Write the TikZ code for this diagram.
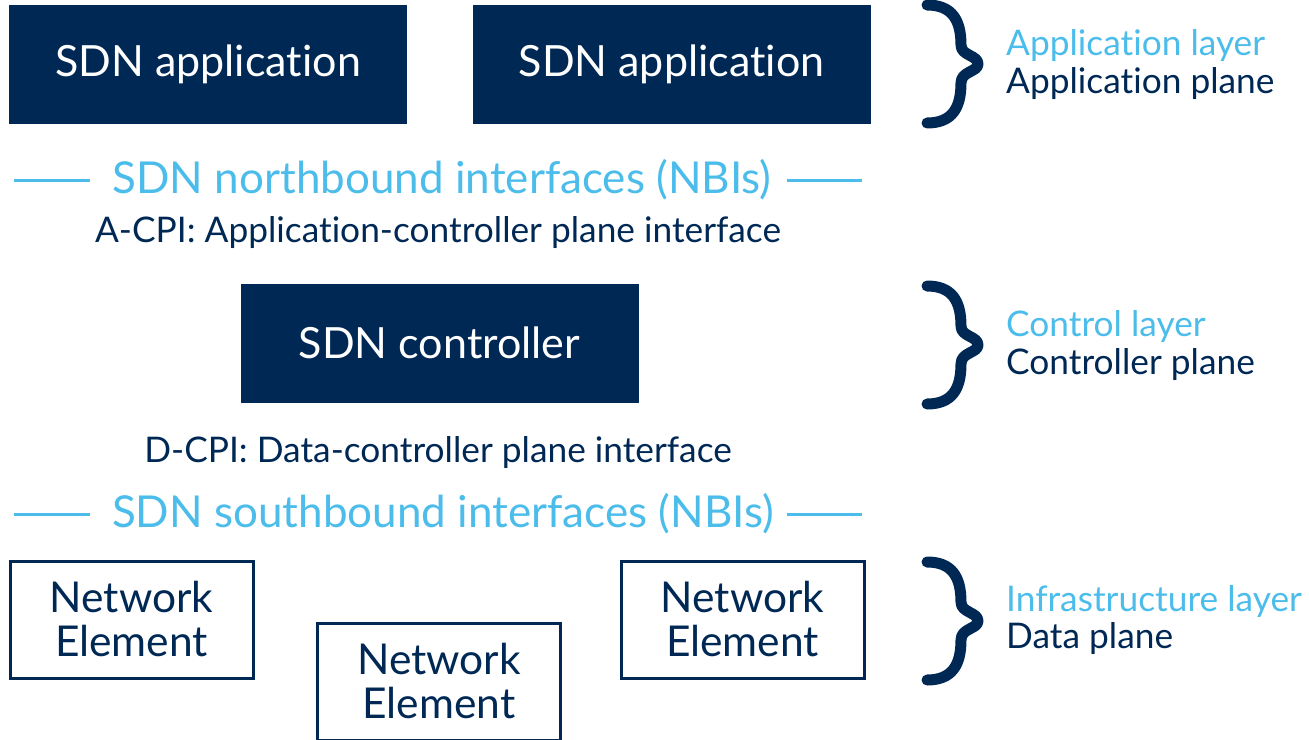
\documentclass[tikz,border=0pt]{standalone}
\usepackage{fontspec}
\setmainfont{Lato}[Ligatures=NoCommon]
\definecolor{navy}{HTML}{002855}
\definecolor{sky}{HTML}{4CBDEB}
\tikzset{
  darkbox/.style={fill=navy, draw=none, minimum width=398pt, minimum height=119pt, inner sep=0pt, text=white, font=\fontsize{43}{48}\selectfont},
  nebox/.style={draw=navy, line width=3pt, fill=white, minimum width=243pt, minimum height=117pt, inner sep=0pt, text=navy, align=center, font=\fontsize{42.5}{44}\selectfont},
  ifline/.style={draw=sky, line width=3pt},
  iftext/.style={text=sky, inner sep=0pt, font=\fontsize{44}{48}\selectfont},
  cpitext/.style={text=navy, inner sep=0pt, font=\fontsize{35.3}{40}\selectfont},
  layertext/.style={text=sky, inner sep=0pt, anchor=west, font=\fontsize{35.3}{40}\selectfont},
  planetext/.style={text=navy, inner sep=0pt, anchor=west, font=\fontsize{35.3}{40}\selectfont},
  bracestyle/.style={draw=navy, line width=11pt, line cap=round, line join=round}
}
\newcommand{\mybrace}[1]{%
  \draw[bracestyle] (927,#1+5) .. controls (952,#1+5) and (961,#1+20) .. (961,#1+45)
    .. controls (961,#1+56) and (978,#1+55) .. (978,#1+64)
    .. controls (978,#1+72) and (961,#1+71) .. (961,#1+83)
    .. controls (961,#1+108) and (952,#1+123) .. (927,#1+123);}
\begin{document}
\begin{tikzpicture}[x=1pt,y=-1pt]
\useasboundingbox (0,0) rectangle (1309,739);
\clip (0,0) rectangle (1309,739);
% application layer
\node[darkbox] (app1) at (208,64.5) {SDN application};
\node[darkbox] (app2) at (671.5,64.5) {SDN application};
% northbound
\node[iftext] (nbi) at (442,180) {SDN northbound interfaces (NBIs)};
\coordinate (nbl1) at (14,180); \coordinate (nbl2) at (90,180);
\coordinate (nbr1) at (787,180); \coordinate (nbr2) at (862,180);
\draw[ifline] (nbl1) -- (nbl2);
\draw[ifline] (nbr1) -- (nbr2);
\node[cpitext] (acpi) at (438,233) {A-CPI: Application-controller plane interface};
% controller
\node[darkbox] (ctrl) at (439.5,343) {SDN controller};
\node[cpitext] (dcpi) at (438,453) {D-CPI: Data-controller plane interface};
% southbound
\node[iftext] (sbi) at (443,514) {SDN southbound interfaces (NBIs)};
\coordinate (sbl1) at (14,514); \coordinate (sbl2) at (90,514);
\coordinate (sbr1) at (787,514); \coordinate (sbr2) at (862,514);
\draw[ifline] (sbl1) -- (sbl2);
\draw[ifline] (sbr1) -- (sbr2);
% network elements
\node[nebox] (ne1) at (131.5,619.5) {Network\\Element};
\node[nebox] (ne2) at (439,681.5) {Network\\Element};
\node[nebox] (ne3) at (742.5,619.5) {Network\\Element};
% braces
\mybrace{0}
\mybrace{281}
\mybrace{557}
% layer labels
\node[layertext] (l1) at (1006,46) {Application layer};
\node[planetext] (p1) at (1006,84) {Application plane};
\node[layertext] (l2) at (1006,327) {Control layer};
\node[planetext] (p2) at (1006,365) {Controller plane};
\node[layertext] (l3) at (1006,602) {Infrastructure layer};
\node[planetext] (p3) at (1006,639) {Data plane};
\end{tikzpicture}
\end{document}
